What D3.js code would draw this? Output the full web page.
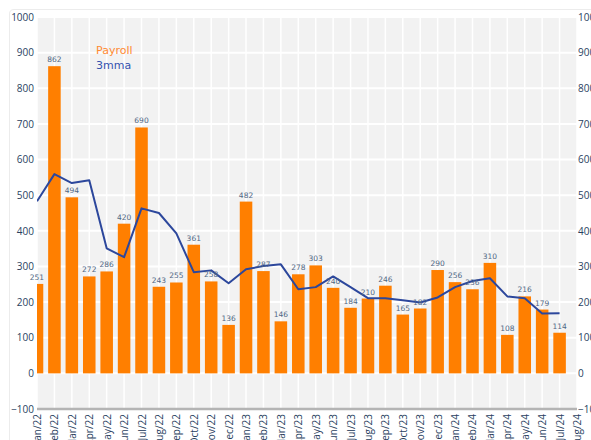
<!DOCTYPE html>
<html>
<head>
<meta charset="utf-8">
<script src="https://cdn.jsdelivr.net/npm/d3@7"></script>
<style>
    body { margin: 0; background: #fff; }
    svg { display: block; }
</style>
</head>
<body>
<svg id="chart" width="591" height="440"></svg>
<script>
let months = ["Jan/22", "Feb/22", "Mar/22", "Apr/22", "May/22", "Jun/22", "Jul/22", "Aug/22", "Sep/22", "Oct/22", "Nov/22", "Dec/22",
    "Jan/23", "Feb/23", "Mar/23", "Apr/23", "May/23", "Jun/23", "Jul/23", "Aug/23", "Sep/23", "Oct/23", "Nov/23", "Dec/23",
    "Jan/24", "Feb/24", "Mar/24", "Apr/24", "May/24", "Jun/24", "Jul/24", "Aug/24"]
let payroll = [251, 862, 494, 272, 286, 420, 690, 243, 255, 361, 258, 136,
    482, 287, 146, 278, 303, 240, 184, 210, 246, 165, 182, 290,
    256, 236, 310, 108, 216, 179, 114]
let mma3 = [483, 559, 534, 542, 351, 326, 463, 450, 393, 284, 289, 253,
    292, 301, 306, 236, 242, 272, 242, 211, 211, 205, 199, 213,
    242, 259, 267, 216, 211, 168, 169]
let yTicks = [-100, 0, 100, 200, 300, 400, 500, 600, 700, 800, 900, 1000]

function drawChart(svg_ref) {
    let margin = ({top: 17, right: 14, bottom: 31, left: 37})
    let width = 591
    let height = 440
    let orange = "#ff7f00"
    let blue = "#2c479c"
    let tickColor = "#2a3f5f"

    let x = d3.scalePoint()
        .domain(months)
        .range([margin.left, width - margin.right])
    let y = d3.scaleLinear()
        .domain([-100, 1000])
        .range([height - margin.bottom, margin.top])
    let barW = x.step() * 0.72

    const svg = d3.select(svg_ref)

    // outer frame
    svg.append("path")
        .attr("d", `M9.5,${height} V14 Q9.5,9.5 14,9.5 H${width}`)
        .attr("fill", "none")
        .attr("stroke", "#ececec")

    svg.append("defs").append("clipPath")
        .attr("id", "plot-clip")
        .append("rect")
        .attr("x", margin.left)
        .attr("y", margin.top)
        .attr("width", width - margin.left - margin.right)
        .attr("height", height - margin.top - margin.bottom)

    svg.append("rect")
        .attr("x", margin.left)
        .attr("y", margin.top)
        .attr("width", width - margin.left - margin.right)
        .attr("height", height - margin.top - margin.bottom)
        .attr("fill", "#f2f2f2")

    let grid = svg.append("g").attr("clip-path", "url(#plot-clip)")
    grid.selectAll("line.h")
        .data(yTicks)
        .join("line")
        .attr("class", "h")
        .attr("x1", margin.left)
        .attr("x2", width - margin.right)
        .attr("y1", d => y(d))
        .attr("y2", d => y(d))
        .attr("stroke", "#fff")
        .attr("stroke-width", 2)
    grid.selectAll("line.v")
        .data(months)
        .join("line")
        .attr("class", "v")
        .attr("x1", d => x(d))
        .attr("x2", d => x(d))
        .attr("y1", margin.top)
        .attr("y2", height - margin.bottom)
        .attr("stroke", "#fff")
        .attr("stroke-width", 1.5)

    let plot = svg.append("g").attr("clip-path", "url(#plot-clip)")
    plot.selectAll("rect")
        .data(payroll)
        .join("rect")
        .attr("fill", orange)
        .attr("x", (d, i) => x(months[i]) - barW / 2)
        .attr("y", d => y(Math.max(d, 0)))
        .attr("width", barW)
        .attr("height", d => Math.abs(y(d) - y(0)))

    svg.append("g")
        .attr("font-family", "DejaVu Sans, Verdana, sans-serif")
        .attr("font-size", 7.5)
        .attr("fill", "#506784")
        .attr("text-anchor", "middle")
        .selectAll("text")
        .data(payroll)
        .join("text")
        .attr("x", (d, i) => x(months[i]))
        .attr("y", d => y(d) - 4)
        .text(d => d)

    let line = d3.line()
        .x((d, i) => x(months[i]))
        .y(d => y(d))
    plot.append("path")
        .datum(mma3)
        .attr("fill", "none")
        .attr("stroke", blue)
        .attr("stroke-width", 2)
        .attr("stroke-linejoin", "round")
        .attr("d", line)

    // bottom axis line
    svg.append("line")
        .attr("x1", margin.left)
        .attr("x2", width - margin.right)
        .attr("y1", y(-100))
        .attr("y2", y(-100))
        .attr("stroke", "#b4b4b4")
        .attr("stroke-width", 2.5)

    let fmt = d => d < 0 ? "\u2212" + Math.abs(d) : d
    let yLeft = g => g
        .attr("transform", `translate(${margin.left - 3},0)`)
        .call(d3.axisLeft(y).tickValues(yTicks).tickSize(0).tickPadding(0).tickFormat(fmt))
        .call(g => g.select(".domain").remove())
    let yRight = g => g
        .attr("transform", `translate(${width - margin.right + 1},0)`)
        .call(d3.axisRight(y).tickValues(yTicks).tickSize(0).tickPadding(0).tickFormat(fmt))
        .call(g => g.select(".domain").remove())
    let xAxis = g => g
        .attr("transform", `translate(0,${height - margin.bottom + 5})`)
        .call(d3.axisBottom(x).tickSize(0).tickPadding(0))
        .call(g => g.select(".domain").remove())
        .call(g => g.selectAll(".tick text")
            .attr("transform", "rotate(-90)")
            .attr("text-anchor", "end")
            .attr("x", 0)
            .attr("y", 0)
            .attr("dx", 0)
            .attr("dy", "0.35em"))

    for (let ax of [yLeft, yRight, xAxis]) {
        svg.append("g")
            .call(ax)
            .attr("font-family", "Open Sans, sans-serif")
            .attr("font-size", 10)
            .call(g => g.selectAll(".tick text").attr("fill", tickColor))
    }

    let legend = svg.append("g")
        .attr("font-family", "DejaVu Sans, Verdana, sans-serif")
        .attr("font-size", 11)
    legend.append("text").attr("x", 96).attr("y", 54).attr("fill", "#ff8a33").text("Payroll")
    legend.append("text").attr("x", 96).attr("y", 69).attr("fill", "#3553b0").text("3mma")

    return svg.node()
}

drawChart(document.getElementById("chart"))
</script>
</body>
</html>
